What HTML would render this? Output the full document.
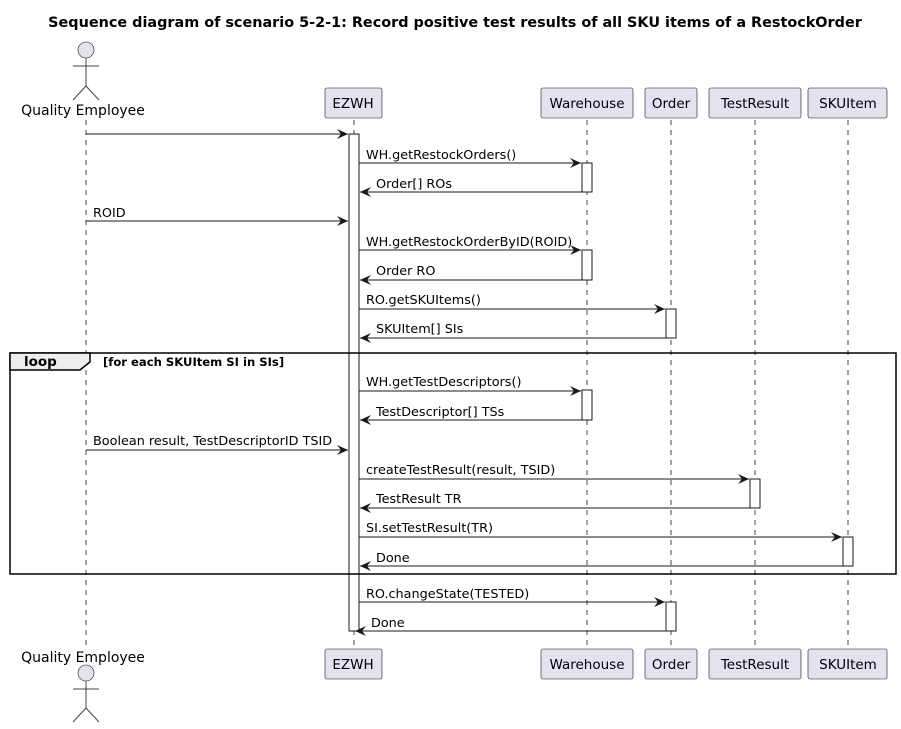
<!DOCTYPE html>
<html><head><meta charset="utf-8"><style>body{margin:0;background:#fff}svg{display:block}text{font-family:"DejaVu Sans",sans-serif;font-size:12.8px;fill:#000}</style></head><body>
<svg width="901" height="729" viewBox="0 0 901 729" xmlns="http://www.w3.org/2000/svg">
<defs><marker id="a" markerWidth="12" markerHeight="10" refX="11" refY="5" orient="auto" markerUnits="userSpaceOnUse"><path d="M0,0 L11,5 L0,10 L4,5 Z" fill="#181818"/></marker></defs>
<text x="455" y="27" text-anchor="middle" font-weight="bold" style="font-size:14.4px">Sequence diagram of scenario 5-2-1: Record positive test results of all SKU items of a RestockOrder</text>
<g stroke="#181818" stroke-dasharray="5,5" stroke-width="0.8">
<line x1="86" y1="120" x2="86" y2="650"/><line x1="354" y1="120" x2="354" y2="650"/><line x1="587" y1="120" x2="587" y2="650"/><line x1="671" y1="120" x2="671" y2="650"/><line x1="755" y1="120" x2="755" y2="650"/><line x1="848" y1="120" x2="848" y2="650"/></g>
<g fill="#E2E2F0" stroke="#181818" stroke-width="0.6">
<rect x="325" y="88" width="57" height="30" rx="2"/><rect x="541" y="88" width="92" height="30" rx="2"/><rect x="645" y="88" width="52" height="30" rx="2"/><rect x="709" y="88" width="92" height="30" rx="2"/><rect x="808" y="88" width="79" height="30" rx="2"/>
<rect x="325" y="649" width="57" height="30" rx="2"/><rect x="541" y="649" width="92" height="30" rx="2"/><rect x="645" y="649" width="52" height="30" rx="2"/><rect x="709" y="649" width="92" height="30" rx="2"/><rect x="808" y="649" width="79" height="30" rx="2"/>
<circle cx="86" cy="50" r="8"/><circle cx="86" cy="673" r="8"/></g>
<g stroke="#444" fill="none"><path d="M86,58 V86 M73,66 H99 M86,86 L73,100 M86,86 L99,100"/><path d="M86,681 V708 M73,689 H99 M86,708 L73,722 M86,708 L99,722"/></g>
<g text-anchor="middle" style="font-size:13.5px"><text x="353" y="108" style="font-size:13.5px">EZWH</text><text x="587" y="108" style="font-size:13.5px">Warehouse</text><text x="671" y="108" style="font-size:13.5px">Order</text><text x="755" y="108" style="font-size:13.5px">TestResult</text><text x="848" y="108" style="font-size:13.5px">SKUItem</text>
<text x="353" y="669" style="font-size:13.5px">EZWH</text><text x="587" y="669" style="font-size:13.5px">Warehouse</text><text x="671" y="669" style="font-size:13.5px">Order</text><text x="755" y="669" style="font-size:13.5px">TestResult</text><text x="848" y="669" style="font-size:13.5px">SKUItem</text>
<text x="83" y="115" style="font-size:14px">Quality Employee</text><text x="83" y="662" style="font-size:14px">Quality Employee</text></g>
<g fill="#fff" stroke="#181818">
<rect x="349" y="134" width="10" height="497"/>
<rect x="582" y="163" width="10" height="29"/><rect x="582" y="250" width="10" height="30"/><rect x="582" y="390" width="10" height="30"/>
<rect x="666" y="309" width="10" height="29"/><rect x="666" y="602" width="10" height="29"/>
<rect x="750" y="479" width="10" height="29"/><rect x="843" y="537" width="10" height="29"/></g>
<rect x="10" y="353" width="886" height="221" fill="none" stroke="#000" stroke-width="1.5"/>
<path d="M10,353 H90 V362 L80,370 H10 Z" fill="#EEE" stroke="#000" stroke-width="1.5"/>
<text x="24" y="366" font-weight="bold" style="font-size:13.5px">loop</text><text x="103" y="366" font-weight="bold" style="font-size:11.6px">[for each SKUItem SI in SIs]</text>
<g stroke="#181818" marker-end="url(#a)">
<line x1="86" y1="134" x2="348" y2="134"/><line x1="359" y1="163" x2="581" y2="163"/><line x1="582" y1="192" x2="360" y2="192"/>
<line x1="86" y1="221" x2="348" y2="221"/><line x1="359" y1="250" x2="581" y2="250"/><line x1="582" y1="280" x2="360" y2="280"/>
<line x1="359" y1="309" x2="665" y2="309"/><line x1="666" y1="338" x2="360" y2="338"/>
<line x1="359" y1="391" x2="581" y2="391"/><line x1="582" y1="420" x2="360" y2="420"/>
<line x1="86" y1="450" x2="348" y2="450"/><line x1="359" y1="479" x2="749" y2="479"/><line x1="750" y1="508" x2="360" y2="508"/>
<line x1="359" y1="537" x2="842" y2="537"/><line x1="843" y1="566" x2="360" y2="566"/>
<line x1="359" y1="602" x2="665" y2="602"/><line x1="666" y1="631" x2="355" y2="631"/></g>
<text x="366" y="159">WH.getRestockOrders()</text><text x="376" y="188">Order[] ROs</text>
<text x="93" y="217">ROID</text><text x="366" y="246">WH.getRestockOrderByID(ROID)</text><text x="376" y="275">Order RO</text>
<text x="366" y="304">RO.getSKUItems()</text><text x="376" y="333">SKUItem[] SIs</text>
<text x="366" y="386">WH.getTestDescriptors()</text><text x="376" y="416">TestDescriptor[] TSs</text>
<text x="93" y="445">Boolean result, TestDescriptorID TSID</text><text x="366" y="474">createTestResult(result, TSID)</text><text x="376" y="503">TestResult TR</text>
<text x="366" y="532">SI.setTestResult(TR)</text><text x="376" y="562">Done</text>
<text x="366" y="598">RO.changeState(TESTED)</text><text x="371" y="627">Done</text>
</svg></body></html>
